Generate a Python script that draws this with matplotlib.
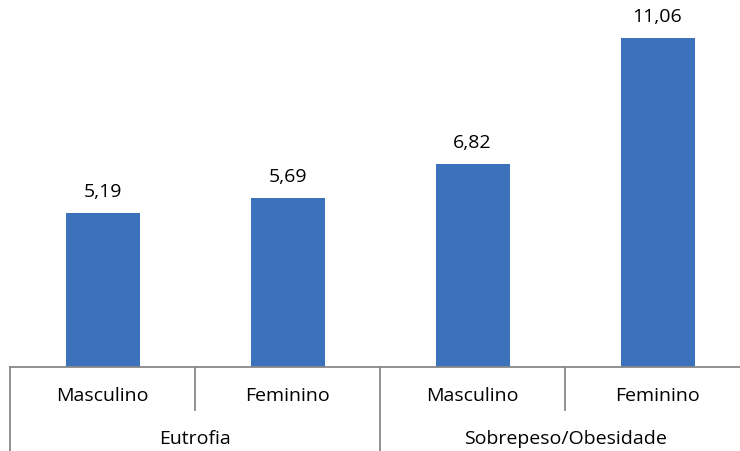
import matplotlib
matplotlib.use("Agg")
import matplotlib.pyplot as plt
from matplotlib.transforms import blended_transform_factory
from matplotlib.lines import Line2D

subcats = ["Masculino", "Feminino", "Masculino", "Feminino"]
groups = ["Eutrofia", "Sobrepeso/Obesidade"]
values = [5.19, 5.69, 6.82, 11.06]
labels = ["5,19", "5,69", "6,82", "11,06"]

plt.rcParams['font.family'] = ['Open Sans', 'DejaVu Sans']
FS = 14

W, H = 740, 451
fig = plt.figure(figsize=(W/100, H/100), dpi=100)
ax = fig.add_axes([10/W, (H-367)/H, 740/W, 357/H])
x = list(range(len(values)))
ax.bar(x, values, width=0.4, color="#3C72BC")
ax.set_xlim(-0.5, 3.5)
ax.set_ylim(0, 12)
for s in ax.spines.values():
    s.set_visible(False)
ax.set_xticks([]); ax.set_yticks([])

for xi, v, l in zip(x, values, labels):
    ax.annotate(l, (xi, v), xytext=(0, 21), textcoords="offset pixels",
                ha="center", va="center", fontsize=FS, color="#000000")

tr = blended_transform_factory(ax.transData, fig.transFigure)
yb = (H-367)/H
lc = "#888888"
fig.add_artist(Line2D([-0.5, 3.6], [yb, yb], transform=tr, color=lc, lw=1.3))
for xv, ybot in [(-0.5, 0), (0.5, (H-410)/H), (1.5, 0), (2.5, (H-410)/H)]:
    fig.add_artist(Line2D([xv, xv], [yb, ybot], transform=tr, color=lc, lw=1.3))

for xi, s in zip(x, subcats):
    fig.text(xi, (H-396)/H, s, transform=tr, ha="center", va="center", fontsize=FS)
for gi, g in enumerate(groups):
    fig.text(gi*2+0.5, (H-439)/H, g, transform=tr, ha="center", va="center", fontsize=FS)

fig.savefig("out.png", dpi=100)
